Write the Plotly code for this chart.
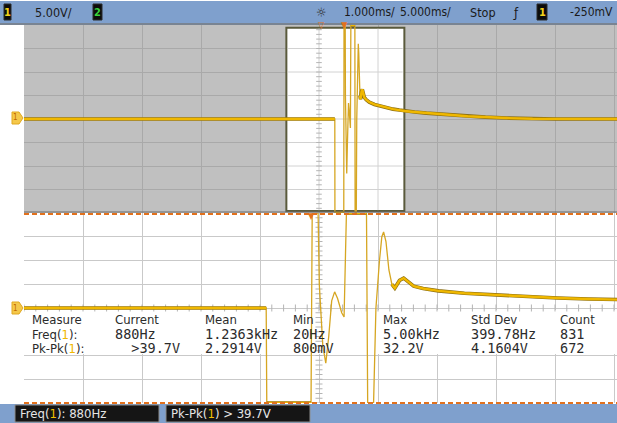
import plotly.graph_objects as go

W, H = 617, 423

# ---- channel 1 record: time in ms from the trigger, amplitude in volts ----
t_ms = [-27.5, -0.76, -0.75, 0.00, 0.02, 0.12, 0.14, 0.20, 0.25, 0.30, 0.35, 0.40,
        0.45, 0.52, 0.56, 0.60, 0.94, 0.96, 1.06, 1.10, 1.16, 1.20, 1.23, 1.27,
        1.32, 1.37, 1.42, 1.50, 1.57, 1.65, 1.74, 1.90, 2.16, 2.60, 3.17, 3.70,
        4.18, 4.70, 5.14, 6.0, 7.0, 8.0, 9.2, 10.5, 12.0, 13.8, 16.0, 18.0, 23.5]
volts = [0, 0, -20, -20, 20, 20, 5, -8, -11.6, -6, 1.5, 3.4,
         2.0, -1.0, -1.9, 20, 20, -20, -20, 0, 10, 15, 16, 14,
         8, 5, 4.2, 5.8, 6.3, 5.5, 4.6, 4.1, 3.6, 3.1, 2.7, 2.35,
         2.1, 1.9, 1.7, 1.5, 1.25, 1.05, 0.85, 0.6, 0.4, 0.2, 0.05, 0, 0]

# stretches of the record that are densely sampled (drawn as a heavy trace)
dense_spans_ms = [(-28.0, -0.76), (-0.75, 0.0), (0.60, 0.94), (1.37, 24.0)]

# ---- front-panel settings ----
volts_per_div = 5.0
main_ms_per_div = 5.0
zoom_ms_per_div = 1.0
main_center_ms = -2.1
zoom_center_ms = 0.135
n_hdiv, n_vdiv = 10, 8
n_minor = 5

# ---- measurement readout ----
meas_header = ["Measure", "Current", "Mean", "Min", "Max", "Std Dev", "Count"]
meas_names = ["Freq", "Pk-Pk"]
freq_row = ["880Hz", "1.2363kHz", "20Hz", "5.00kHz", "399.78Hz", "831"]
pkpk_row = ["\u00a0\u00a0>39.7V", "2.2914V", "800mV", "32.2V", "4.1604V", "672"]

# ---- screen geometry (pixels) ----
PL, PR = 24, 617          # graticule left / right
UT, UB = 25, 213          # upper (main) window
LT, LB = 213, 403         # lower (zoomed) window
DIV_PX = 59.0


def px(x):
    return x / W


def py(y):
    return 1 - y / H


YEL = "#f0b800"
ORANGE = "#e2711d"
BLUE = "#7fa0cd"

main_left = main_center_ms - n_hdiv / 2 * main_ms_per_div
main_right = main_left + (PR - PL) / DIV_PX * main_ms_per_div
zoom_left = zoom_center_ms - n_hdiv / 2 * zoom_ms_per_div
zoom_right = zoom_left + (PR - PL) / DIV_PX * zoom_ms_per_div
v_half = n_vdiv / 2 * volts_per_div

main_ticks = [main_left + k * main_ms_per_div for k in range(n_hdiv + 1)]
zoom_ticks = [zoom_left + k * zoom_ms_per_div for k in range(n_hdiv + 1)]
v_ticks = [-v_half + k * volts_per_div for k in range(n_vdiv + 1)]


def split_dense(t, v, spans):
    xs, ys = [], []
    for a, b in spans:
        for ti, vi in zip(t, v):
            if a <= ti <= b:
                xs.append(ti)
                ys.append(vi)
        xs.append(None)
        ys.append(None)
    return xs, ys


dense_t, dense_v = split_dense(t_ms, volts, dense_spans_ms)

fig = go.Figure()

# graticule minor ticks on the centre lines
tick_col = "#b4b4b4"
v_minor = [-v_half + k * volts_per_div / n_minor for k in range(n_vdiv * n_minor + 1)]
t_minor_zoom = [zoom_left + k * zoom_ms_per_div / n_minor for k in range(n_hdiv * n_minor + 1)]
fig.add_trace(go.Scatter(x=[zoom_center_ms] * len(v_minor), y=v_minor, xaxis="x2", yaxis="y2",
                         mode="markers", marker=dict(symbol="line-ew", size=5,
                                                     line=dict(color=tick_col, width=1)),
                         hoverinfo="skip"))
fig.add_trace(go.Scatter(x=t_minor_zoom, y=[0] * len(t_minor_zoom), xaxis="x2", yaxis="y2",
                         mode="markers", marker=dict(symbol="line-ns", size=5,
                                                     line=dict(color=tick_col, width=1)),
                         hoverinfo="skip"))
fig.add_trace(go.Scatter(x=[main_center_ms] * len(v_minor), y=v_minor, xaxis="x", yaxis="y",
                         mode="markers", marker=dict(symbol="line-ew", size=4,
                                                     line=dict(color=tick_col, width=1)),
                         hoverinfo="skip"))

for xa, ya in (("x", "y"), ("x2", "y2")):
    fig.add_trace(go.Scatter(x=t_ms, y=volts, xaxis=xa, yaxis=ya, mode="lines",
                             line=dict(color="#d6a622", width=1.3), hoverinfo="skip"))
    fig.add_trace(go.Scatter(x=dense_t, y=dense_v, xaxis=xa, yaxis=ya, mode="lines",
                             line=dict(color="#8a6d12", width=3.6), hoverinfo="skip"))
    fig.add_trace(go.Scatter(x=dense_t, y=dense_v, xaxis=xa, yaxis=ya, mode="lines",
                             line=dict(color=YEL, width=2.4), hoverinfo="skip"))

axis_common = dict(showticklabels=False, ticks="", zeroline=False, showline=False,
                   showgrid=True, gridwidth=1, fixedrange=True)
fig.update_layout(
    width=W, height=H, margin=dict(l=0, r=0, t=0, b=0),
    paper_bgcolor="white", plot_bgcolor="white", showlegend=False,
    xaxis=dict(domain=[px(PL), px(PR)], range=[main_left, main_right], anchor="y",
               tickvals=main_ticks, gridcolor="#a9a9a9", **axis_common),
    yaxis=dict(domain=[py(UB), py(UT)], range=[-v_half, v_half], anchor="x",
               tickvals=v_ticks, gridcolor="#a9a9a9", **axis_common),
    xaxis2=dict(domain=[px(PL), px(PR)], range=[zoom_left, zoom_right], anchor="y2",
                tickvals=zoom_ticks, gridcolor="#c9c9c9", **axis_common),
    yaxis2=dict(domain=[py(LB), py(LT)], range=[-v_half, v_half], anchor="x2",
                tickvals=v_ticks, gridcolor="#c9c9c9", **axis_common),
)

shapes = []
# main window: gray background, white zoom region
shapes.append(dict(type="rect", xref="x", yref="y", x0=main_left, x1=main_right,
                   y0=-v_half, y1=v_half, fillcolor="#c0c0c0", line_width=0, layer="below"))
zoom_x0 = zoom_center_ms - n_hdiv / 2 * zoom_ms_per_div
zoom_x1 = zoom_center_ms + n_hdiv / 2 * zoom_ms_per_div
shapes.append(dict(type="rect", xref="x", yref="y", x0=zoom_x0, x1=zoom_x1,
                   y0=-v_half + 0.4, y1=v_half - 0.6, fillcolor="white",
                   line=dict(color="#5a5a3c", width=2), layer="between"))
for tv in main_ticks:
    if zoom_x0 + 0.3 < tv < zoom_x1 - 0.3:
        shapes.append(dict(type="line", xref="x", yref="y", x0=tv, x1=tv,
                           y0=-v_half + 0.6, y1=v_half - 0.8,
                           line=dict(color="#d2d2d2", width=1), layer="between"))
for vv in v_ticks[1:-1]:
    shapes.append(dict(type="line", xref="x", yref="y", x0=zoom_x0 + 0.15, x1=zoom_x1 - 0.15,
                       y0=vv, y1=vv, line=dict(color="#d2d2d2", width=1), layer="between"))

# measurement readout background
v_per_px = volts_per_div / ((LB - LT) / n_vdiv)
shapes.append(dict(type="rect", xref="x2", yref="y2", x0=zoom_left, x1=zoom_right,
                   y0=-(354 - 308) * v_per_px, y1=-(310 - 308) * v_per_px,
                   fillcolor="white", line_width=0, layer="between"))

# status bars
shapes.append(dict(type="rect", xref="paper", yref="paper", x0=0, x1=1,
                   y0=py(23), y1=py(1), fillcolor=BLUE, line_width=0, layer="above"))
shapes.append(dict(type="line", xref="paper", yref="paper", x0=0, x1=1,
                   y0=py(24), y1=py(24), line=dict(color="#4d5b6e", width=1.5), layer="above"))
shapes.append(dict(type="rect", xref="paper", yref="paper", x0=0, x1=1,
                   y0=0, y1=py(404), fillcolor=BLUE, line_width=0, layer="above"))
for x0, x1 in ((15, 159), (166, 310)):
    shapes.append(dict(type="rect", xref="paper", yref="paper", x0=px(x0), x1=px(x1),
                       y0=py(422), y1=py(405), fillcolor="#151515",
                       line=dict(color="#8c8c8c", width=1), layer="above"))
# channel badges in the top bar
for x0, x1 in ((4, 11), (93, 102), (537, 547)):
    shapes.append(dict(type="rect", xref="paper", yref="paper", x0=px(x0), x1=px(x1),
                       y0=py(20), y1=py(4), fillcolor="#0c0c0c",
                       line=dict(color="#2a2a2a", width=1), layer="above"))

# separators between main and zoom windows / bottom edge
shapes.append(dict(type="line", xref="paper", yref="paper", x0=px(PL), x1=1,
                   y0=py(212), y1=py(212), line=dict(color="#6a6a6a", width=1), layer="above"))
for yy in (214, 403):
    shapes.append(dict(type="line", xref="paper", yref="paper", x0=px(PL), x1=1,
                       y0=py(yy), y1=py(yy), line=dict(color=ORANGE, width=2, dash="5px,3px"),
                       layer="above"))

# channel-1 ground reference markers
for gy in (118, 308):
    path = (f"M {px(12)},{py(gy - 6)} L {px(19)},{py(gy - 6)} L {px(23)},{py(gy)} "
            f"L {px(19)},{py(gy + 6)} L {px(12)},{py(gy + 6)} Z")
    shapes.append(dict(type="path", xref="paper", yref="paper", path=path,
                       fillcolor="#f5c84a", line=dict(color="#e0a820", width=1), layer="above"))

fig.update_layout(shapes=shapes)

ann = []
SANS = "DejaVu Sans Condensed, Liberation Sans Narrow, Roboto, sans-serif"
MONO = "DejaVu Sans Mono, Liberation Mono, monospace"


def text(x, y, s, size=12, color="#1a1a1a", family=SANS, xanchor="left", yanchor="middle"):
    ann.append(dict(x=px(x), y=py(y), xref="paper", yref="paper", text=s, showarrow=False,
                    xanchor=xanchor, yanchor=yanchor, align="left",
                    font=dict(size=size, color=color, family=family)))


# top status bar
text(7.5, 12, "<b>1</b>", 11, "#f2d21a", xanchor="center")
text(33, 12, "5.00V/", 12.5)
text(97.5, 12, "<b>2</b>", 11, "#39d23c", xanchor="center")
text(321, 12, "\u263c", 13, "#2a2a2a", xanchor="center")
text(342, 12, "1.000ms/", 12)
text(398, 12, "5.000ms/", 12)
text(468, 12, "Stop", 12.5)
text(516, 12, "\u0192", 13, "#1a1a1a", xanchor="center")
text(542, 12, "<b>1</b>", 11, "#f2d21a", xanchor="center")
text(568, 12, "-250mV", 12)

# trigger / delay markers
text(321, 25, "\u25bd", 9, ORANGE, xanchor="center")
text(344, 25, "\u25bc", 9, ORANGE, xanchor="center")
text(312, 216, "\u25bc", 9, ORANGE, xanchor="center")

# ground marker labels
for gy in (118, 308):
    text(15.5, gy, "1", 8, "#c06a00", xanchor="center")

# measurement readout: one stacked block per column
col_x = [30, 113, 203, 291, 381, 469, 558]
one = "<span style='color:#f0b800'>1</span>"


def hdr(s):
    return f"<span style='font-family:{SANS};font-size:13px'>{s}</span>"


def val(s):
    return f"<span style='font-family:{MONO};font-size:13.5px'>{s}</span>"


first_col = "<br>".join([hdr(meas_header[0])] + [hdr(f"{n}({one}):") for n in meas_names])
text(col_x[0], 309.5, first_col, 11.3, "#2b2b2b", yanchor="top")
for cx, h, a, b in zip(col_x[1:], meas_header[1:], freq_row, pkpk_row):
    block = "<br>".join([hdr(h), val(a), val(b)])
    text(cx, 309.5, block, 11.3, "#2b2b2b", yanchor="top")

# bottom status bar
one_b = "<span style='color:#f0c000'>1</span>"
text(18, 413.5, f"Freq({one_b}): 880Hz", 13, "#e6e6e6")
text(169, 413.5, f"Pk-Pk({one_b}) > 39.7V", 13, "#e6e6e6")

fig.update_layout(annotations=ann)
fig.write_html("out.html")
